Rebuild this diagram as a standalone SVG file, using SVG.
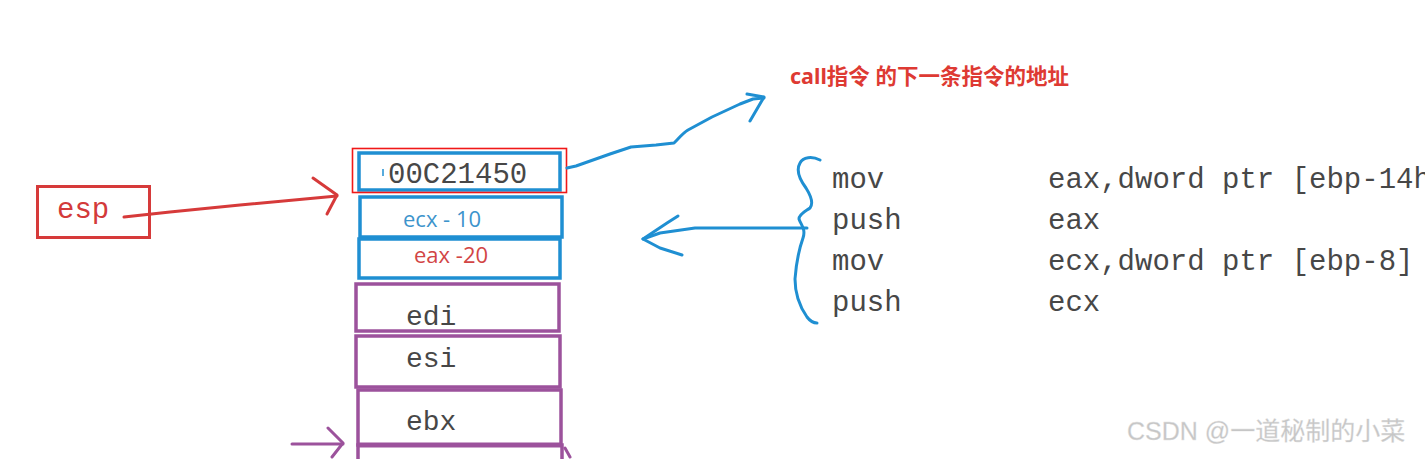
<svg xmlns="http://www.w3.org/2000/svg" width="1425" height="459" viewBox="0 0 1425 459">
<style>
.bg{fill:#ffffff}
.mono{font-family:"Liberation Mono","DejaVu Sans Mono",monospace;fill:#474747}
.code{font-size:29px}
.reg{font-size:28px}
.cell-blue{fill:none;stroke:#1f8fd2;stroke-width:3.5}
.cell-purple{fill:none;stroke:#9c529c;stroke-width:3.5}
.ink-blue{fill:none;stroke:#1f8fd2;stroke-width:3;stroke-linecap:round;stroke-linejoin:round}
.ink-red{fill:none;stroke:#d63a3a;stroke-width:3;stroke-linecap:round;stroke-linejoin:round}
.ink-purple{fill:none;stroke:#9c529c;stroke-width:3;stroke-linecap:round;stroke-linejoin:round}
.sans{font-family:"Open Sans","Noto Sans",sans-serif;font-size:22px}
</style>
<rect class="bg" x="0" y="0" width="1425" height="459"/>

<g id="label-call">
<text x="790" y="84" font-family="'Noto Sans','Noto Sans CJK SC',sans-serif" font-weight="bold" font-size="21.5" fill="#de3a33">call指令 的下一条指令的地址</text>
</g>

<g id="node-esp">
<rect x="37.5" y="186.5" width="112" height="51" fill="none" stroke="#d63a3a" stroke-width="3"/>
<text x="57" y="218" class="mono" font-size="29" style="fill:#d33a3a">esp</text>
</g>

<g id="cell-ret">
<rect class="cell-blue" x="359" y="153" width="201" height="37"/>
<line x1="383" y1="169" x2="383" y2="176" stroke="#1f8fd2" stroke-width="1.5"/>
<text x="388" y="183" class="mono code">00C21450</text>
<rect x="352.5" y="148.5" width="214" height="44" fill="none" stroke="#f01818" stroke-width="1.6"/>
</g>

<g id="cell-ecx">
<rect class="cell-blue" x="360" y="197" width="202" height="40"/>
<text x="403" y="227" class="sans" fill="#3d94cc">ecx - 10</text>
</g>

<g id="cell-eax">
<rect class="cell-blue" x="359" y="239" width="201" height="39"/>
<text x="414" y="263" class="sans" fill="#d24545">eax -20</text>
</g>

<g id="cell-edi">
<rect class="cell-purple" x="356" y="284" width="203" height="47"/>
<text x="406" y="325" class="mono reg">edi</text>
</g>

<g id="cell-esi">
<rect class="cell-purple" x="356" y="336" width="204" height="51"/>
<text x="406" y="367" class="mono reg">esi</text>
</g>

<g id="cell-ebx">
<rect class="cell-purple" x="358" y="390" width="203" height="55"/>
<text x="406" y="430" class="mono reg">ebx</text>
</g>

<g id="cell-next">
<path class="cell-purple" d="M358,470 V445 H562 V470"/>
<line x1="358" y1="445" x2="562" y2="445" stroke="#9c529c" stroke-width="5"/>
</g>

<g id="code">
<text class="mono code" x="832" y="188">mov</text>
<text class="mono code" x="1048" y="188">eax,dword ptr [ebp-14h]</text>
<text class="mono code" x="832" y="229">push</text>
<text class="mono code" x="1048" y="229">eax</text>
<text class="mono code" x="832" y="270">mov</text>
<text class="mono code" x="1048" y="270">ecx,dword ptr [ebp-8]</text>
<text class="mono code" x="832" y="311">push</text>
<text class="mono code" x="1048" y="311">ecx</text>
</g>

<g id="connectors">
<path class="ink-blue" d="M820,160 C812,156 803,157 800,163 C796,170 800,180 806,188 C811,196 814,203 810,208 C806,211 799,214 799,219 C801,225 806,229 803,238 C798,252 796,266 795,279 C795,293 800,307 807,317 C810,321 814,323 817,323"/>
<path class="ink-blue" d="M807,228 L695,228 L660,233 L643,239"/>
<path class="ink-blue" d="M678,216 L667,223 L643,239 L660,248 L682,255"/>
<path class="ink-blue" d="M567,168 L576,166 L610,154 L631,147 L656,145 L674,143 C679,138 683,133 688,130 L712,117 L740,104 L753,99 L764,98"/>
<path class="ink-blue" d="M747,94 L764,97 L750,121"/>
<path class="ink-red" d="M124,217 L170,212 L240,205 L337,196"/>
<path class="ink-red" d="M313,178 L337,195 L327,214"/>
<path class="ink-purple" d="M292,444 L343,444"/>
<path class="ink-purple" d="M328,428 L343,443 L332,457"/>
<path class="ink-purple" d="M565,448 L570,457"/>
</g>

<g id="watermark">
<text x="1127" y="440" font-family="'Liberation Sans','Noto Sans CJK SC',sans-serif" font-size="25" fill="#c6c6c6" stroke="#e4e4e4" stroke-width="0.3">CSDN @一道秘制的小菜</text>
</g>
</svg>
